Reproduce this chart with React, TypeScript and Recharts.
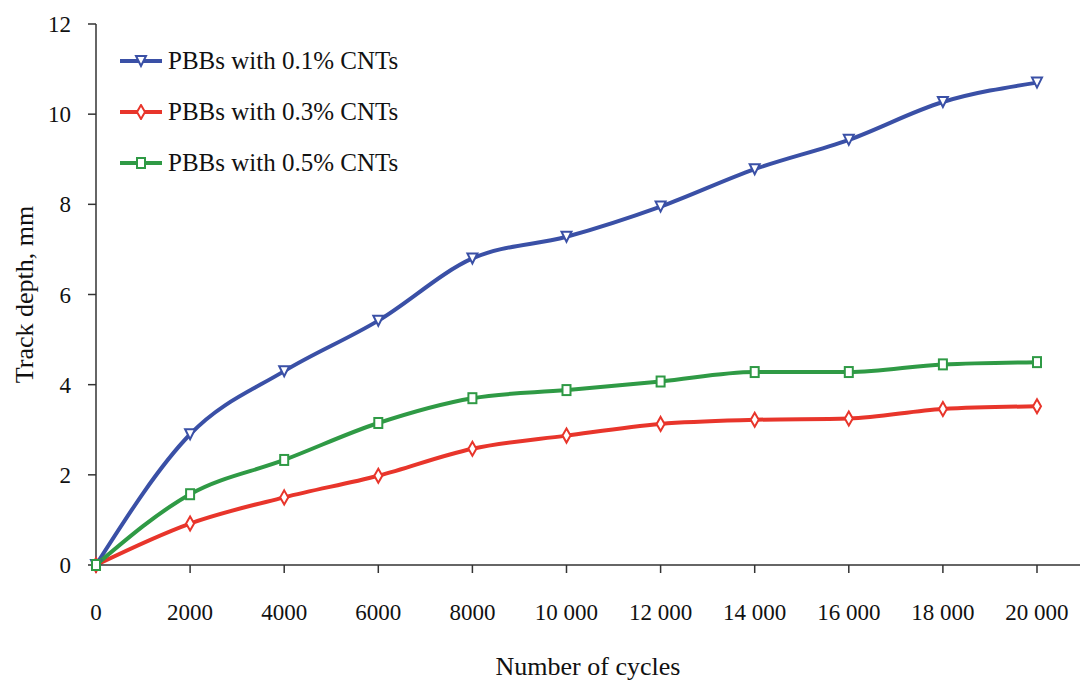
import { LineChart, Line, XAxis, YAxis } from 'recharts';

const cycles = [0, 2000, 4000, 6000, 8000, 10000, 12000, 14000, 16000, 18000, 20000];
const cnt01 = [0, 2.9, 4.3, 5.42, 6.8, 7.28, 7.95, 8.78, 9.43, 10.27, 10.7];
const cnt03 = [0, 0.92, 1.5, 1.98, 2.58, 2.87, 3.13, 3.22, 3.25, 3.46, 3.52];
const cnt05 = [0, 1.57, 2.33, 3.15, 3.7, 3.88, 4.07, 4.28, 4.28, 4.45, 4.5];
const xTicks = [0, 2000, 4000, 6000, 8000, 10000, 12000, 14000, 16000, 18000, 20000];
const yTicks = [0, 2, 4, 6, 8, 10, 12];

const BLUE = '#3a50a6';
const RED = '#e8352b';
const GREEN = '#2f9a45';
const FONT = '"Liberation Serif", serif';
const FS = 23;

const data = cycles.map((c, i) => ({ c, a: cnt01[i], b: cnt03[i], d: cnt05[i] }));

const fmt = (v: number) => (v >= 10000 ? `${Math.floor(v / 1000)} ${String(v % 1000).padStart(3, '0')}` : String(v));

function Marker({ cx, cy, shape, color }: any) {
  if (cx == null || cy == null) return null;
  if (shape === 'tri') {
    return <path d={`M${cx - 5},${cy - 5} L${cx + 5},${cy - 5} L${cx},${cy + 5} Z`} fill="#fff" stroke={color} strokeWidth={2} />;
  }
  if (shape === 'dia') {
    return <path d={`M${cx},${cy - 7} L${cx + 4},${cy} L${cx},${cy + 7} L${cx - 4},${cy} Z`} fill="#fff" stroke={color} strokeWidth={2} />;
  }
  return <rect x={cx - 4} y={cy - 5} width={8} height={10} fill="#fff" stroke={color} strokeWidth={2} />;
}

const series = [
  { key: 'a', name: 'PBBs with 0.1% CNTs', color: BLUE, shape: 'tri' },
  { key: 'b', name: 'PBBs with 0.3% CNTs', color: RED, shape: 'dia' },
  { key: 'd', name: 'PBBs with 0.5% CNTs', color: GREEN, shape: 'sq' },
];

function LegendBox() {
  return (
    <div style={{ position: 'absolute', left: 116, top: 35, fontFamily: FONT, fontSize: 25 }}>
      {series.map((s) => (
        <div key={s.key} style={{ display: 'flex', alignItems: 'center', height: 51 }}>
          <svg width={50} height={16}>
            <line x1={4} y1={8} x2={46} y2={8} stroke={s.color} strokeWidth={4} />
            <Marker cx={25} cy={8} shape={s.shape} color={s.color} />
          </svg>
          <span style={{ color: '#111', marginLeft: 2 }}>{s.name}</span>
        </div>
      ))}
    </div>
  );
}

export default function App() {
  return (
    <div style={{ position: 'absolute', left: 0, top: 0, width: 1080, height: 682, background: '#fff' }}>
      <LineChart width={1080} height={682} data={data} margin={{ top: 24, right: 0, bottom: 0, left: 0 }}>
        <XAxis
          dataKey="c"
          type="number"
          domain={[0, 20914]}
          ticks={xTicks}
          tickFormatter={fmt}
          tickSize={8}
          tickMargin={31}
          stroke="#333"
          strokeWidth={1.5}
          tick={{ fill: '#111', fontFamily: FONT, fontSize: FS }}
          height={117}
          label={{ value: 'Number of cycles', position: 'insideBottom', offset: 7, fill: '#111', fontFamily: FONT, fontSize: 26 }}
        />
        <YAxis
          type="number"
          domain={[0, 12]}
          ticks={yTicks}
          tickSize={8}
          tickMargin={17}
          width={96}
          stroke="#333"
          strokeWidth={1.5}
          tick={{ fill: '#111', fontFamily: FONT, fontSize: FS }}
          label={{ value: 'Track depth, mm', angle: -90, position: 'insideLeft', offset: 24, fill: '#111', fontFamily: FONT, fontSize: 26, style: { textAnchor: 'middle' } }}
        />
        {series.map((s) => (
          <Line
            key={s.key}
            dataKey={s.key}
            name={s.name}
            type="monotone"
            stroke={s.color}
            strokeWidth={4}
            dot={(p: any) => <Marker key={p.index} cx={p.cx} cy={p.cy} shape={s.shape} color={s.color} />}
            activeDot={false}
            isAnimationActive={false}
          />
        ))}
      </LineChart>
      <LegendBox />
    </div>
  );
}
